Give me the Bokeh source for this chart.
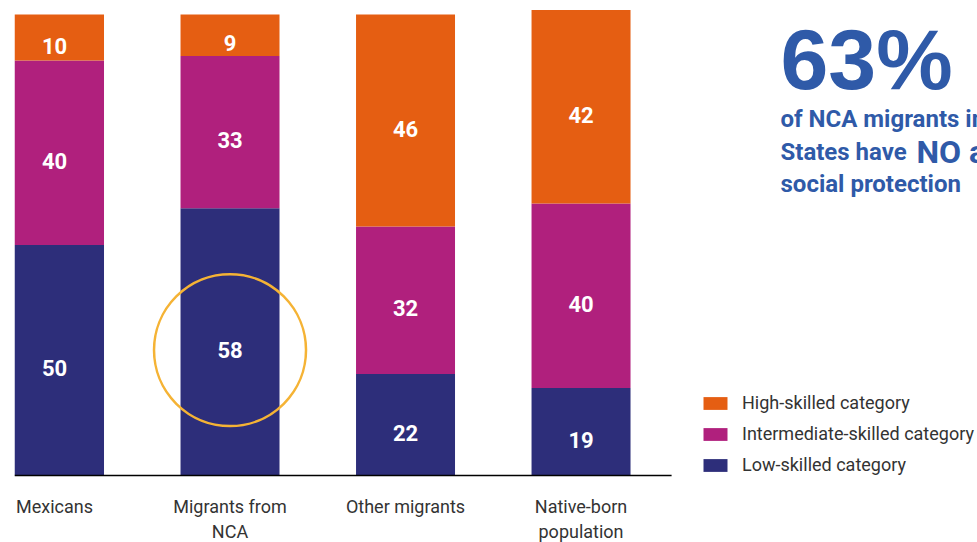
from bokeh.plotting import figure
from bokeh.models import Range1d, Legend, LegendItem, Label, ColumnDataSource
from bokeh.embed import file_html
from bokeh.resources import INLINE
import numpy as np

categories = ["Mexicans", "Migrants from\nNCA", "Other migrants", "Native-born\npopulation"]
low_skilled = [50, 58, 22, 19]
intermediate_skilled = [40, 33, 32, 40]
high_skilled = [10, 9, 46, 42]
series_names = ["Low-skilled category", "Intermediate-skilled category", "High-skilled category"]
colors = ["#2D2E7A", "#B0207D", "#E55E12"]
headline = "63%"
sub_lines = ["of NCA migrants in the United", "States have ", "social protection"]
sub_emph = "NO"
sub_tail = "access to"

LABEL_FONT = "Roboto"
x = np.arange(len(categories))

X_START, X_END, AXIS_END = -0.228, 5.259, 3.516
p = figure(width=977, height=542, output_backend="svg", toolbar_location=None,
           x_range=Range1d(X_START, X_END), y_range=Range1d(-14.53, 103.04),
           min_border_left=14, min_border_right=0, min_border_top=0, min_border_bottom=0)
p.outline_line_color = None
p.grid.visible = False
p.axis.visible = False
p.background_fill_color = "white"

series = [low_skilled, intermediate_skilled, high_skilled]
bottom = np.zeros(len(categories))
renderers = []
for vals, col in zip(series, colors):
    vals = np.array(vals, dtype=float)
    src = ColumnDataSource(dict(x=x, bottom=bottom, top=bottom + vals, mid=bottom + vals / 2,
                                lab=[str(int(v)) for v in vals]))
    r = p.vbar(x="x", bottom="bottom", top="top", width=0.564, source=src,
               fill_color=col, line_color=col, line_width=0)
    renderers.append((r, src))
    bottom = bottom + vals

# baseline
p.segment(x0=[X_START], y0=[0], x1=[AXIS_END], y1=[0], line_color="black", line_width=1.5)

for r, src in renderers:
    p.text(x="x", y="mid", text="lab", source=src, text_align="center", text_baseline="middle",
           text_color="white", text_font_size="22px", text_font_style="bold",
           text_font={"value": "Roboto"}, y_offset=8)

# highlight circle around NCA low-skilled value
p.scatter(x=[x[1]], y=[low_skilled[1] / 2 - 1.8], size=152, marker="circle",
          fill_alpha=0, line_color="#F5B335", line_width=2.5)

# category labels
p.text(x=x, y=[0] * len(x), text=categories, text_align="center", text_baseline="top",
       y_offset=20, text_font={"value": LABEL_FONT}, text_font_size="18px",
       text_color="#333333", text_line_height=1.2)

legend = Legend(items=[LegendItem(label=n, renderers=[r]) for n, (r, _) in
                       reversed(list(zip(series_names, renderers)))],
                location=(686, 67), padding=0, margin=0, spacing=10,
                glyph_width=30, glyph_height=16, label_height=16, label_standoff=12,
                label_text_font=LABEL_FONT, label_text_font_size="18px",
                label_text_color="#333333", border_line_color=None,
                background_fill_alpha=0)
p.add_layout(legend)

blue = "#2F5AA8"
def add_label(xs, ys, txt, font, size):
    p.add_layout(Label(x=xs, y=ys, x_units="screen", y_units="screen", text=txt,
                       text_font=font, text_font_style="bold", text_font_size=size,
                       text_color=blue, text_baseline="alphabetic"))

add_label(766, 484, headline, "Liberation Sans", "86px")
add_label(766, 424, sub_lines[0], "Roboto", "24px")
add_label(766, 391, sub_lines[1], "Roboto", "24px")
add_label(902, 391, sub_emph + " " + sub_tail, "Roboto", "32px")
add_label(766, 359, sub_lines[2], "Roboto", "24px")

open("out.html", "w").write(file_html(p, INLINE))
